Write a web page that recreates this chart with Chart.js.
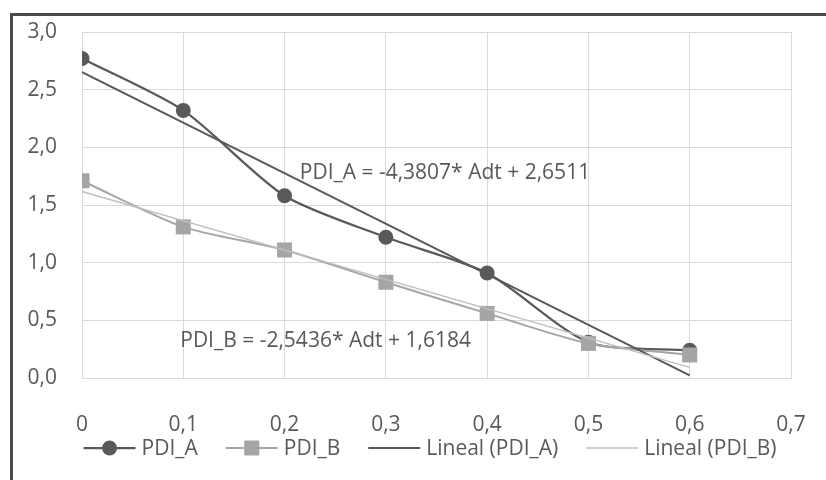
<!DOCTYPE html>
<html>
<head>
<meta charset="utf-8">
<script src="https://cdn.jsdelivr.net/npm/chart.js@4.4.0/dist/chart.umd.min.js"></script>
<style>
  html, body { margin: 0; padding: 0; background: #fff; }
  #wrap { position: relative; width: 826px; height: 480px; overflow: hidden; }
  #frame { position: absolute; left: 10px; top: 13px; width: 900px; height: 600px;
           border-top: 3px solid #4a4a4a; border-left: 3px solid #4a4a4a; }
  canvas { position: absolute; left: 0; top: 0; }
</style>
</head>
<body>
<div id="wrap">
  <div id="frame"></div>
  <canvas id="chart" width="826" height="480"></canvas>
</div>
<script>
// data
const adt = [0, 0.1, 0.2, 0.3, 0.4, 0.5, 0.6];
const pdiA = [2.77, 2.32, 1.58, 1.22, 0.91, 0.31, 0.24];
const pdiB = [1.71, 1.31, 1.11, 0.83, 0.56, 0.30, 0.20];
const trendX = [0, 0.6];
const trendA = [2.651, 0.023];
const trendB = [1.618, 0.092];
const seriesNames = ["PDI_A", "PDI_B", "Lineal (PDI_A)", "Lineal (PDI_B)"];
const equations = ["PDI_A = -4,3807* Adt + 2,6511", "PDI_B = -2,5436* Adt + 1,6184"];

const FONT = "'Open Sans', Lato, sans-serif";
const FSIZE = 21;
const TEXT = "#595959";
const DARK = "#595959";
const LIGHT = "#a5a5a5";
const PALE = "#bfbfbf";

const pts = (xs, ys) => xs.map((x, i) => ({ x: x, y: ys[i] }));
const comma = v => String(v).replace(".", ",");

// keep the plot area where the layout padding puts it
const noScalePad = s => { s.paddingTop = s.paddingBottom = s.paddingLeft = s.paddingRight = 0; };

// equation labels, anchored in data units
const eqPlugin = {
  id: "equations",
  afterDatasetsDraw(chart) {
    const { ctx, scales: { x, y } } = chart;
    const anchors = [[0.215, 1.78], [0.097, 0.32]];
    ctx.save();
    ctx.font = FSIZE + "px " + FONT;
    ctx.fillStyle = TEXT;
    ctx.textBaseline = "middle";
    equations.forEach((t, i) => {
      ctx.fillText(t, x.getPixelForValue(anchors[i][0]), y.getPixelForValue(anchors[i][1]));
    });
    ctx.restore();
  }
};

// excel style legend: line through marker
const legendPlugin = {
  id: "xlLegend",
  afterDraw(chart) {
    const ctx = chart.ctx;
    const styles = [
      { color: DARK, width: 2.25, marker: "circle" },
      { color: LIGHT, width: 2, marker: "rect" },
      { color: DARK, width: 2, marker: null },
      { color: PALE, width: 1.5, marker: null }
    ];
    const lineLen = 52, gapText = 6, gapItem = 28, cy = 448;
    ctx.save();
    ctx.font = FSIZE + "px " + FONT;
    const widths = seriesNames.map(n => ctx.measureText(n).width);
    let total = widths.reduce((a, w) => a + lineLen + gapText + w, 0) + gapItem * (seriesNames.length - 1);
    let x = 430 - total / 2;
    seriesNames.forEach((n, i) => {
      const s = styles[i];
      ctx.strokeStyle = s.color;
      ctx.lineWidth = s.width;
      ctx.beginPath();
      ctx.moveTo(x, cy);
      ctx.lineTo(x + lineLen, cy);
      ctx.stroke();
      ctx.fillStyle = s.color;
      const mx = x + lineLen / 2;
      if (s.marker === "circle") {
        ctx.beginPath();
        ctx.arc(mx, cy, 7.5, 0, Math.PI * 2);
        ctx.fill();
      } else if (s.marker === "rect") {
        ctx.fillRect(mx - 7.5, cy - 7.5, 15, 15);
      }
      ctx.fillStyle = TEXT;
      ctx.textBaseline = "middle";
      ctx.fillText(n, x + lineLen + gapText, cy + 1);
      x += lineLen + gapText + widths[i] + gapItem;
    });
    ctx.restore();
  }
};

new Chart(document.getElementById("chart"), {
  type: "scatter",
  data: {
    datasets: [
      {
        label: seriesNames[0], data: pts(adt, pdiA), showLine: true, tension: 0.25,
        borderColor: DARK, backgroundColor: DARK, borderWidth: 2.25,
        pointStyle: "circle", pointRadius: 7.5, pointBorderWidth: 0, order: 3
      },
      {
        label: seriesNames[1], data: pts(adt, pdiB), showLine: true, tension: 0.25,
        borderColor: LIGHT, backgroundColor: LIGHT, borderWidth: 2,
        pointStyle: "rect", pointRadius: 10.6, pointBorderWidth: 0, order: 2
      },
      {
        label: seriesNames[2], data: pts(trendX, trendA), showLine: true,
        borderColor: DARK, borderWidth: 2, pointRadius: 0, order: 1
      },
      {
        label: seriesNames[3], data: pts(trendX, trendB), showLine: true,
        borderColor: PALE, borderWidth: 1.5, pointRadius: 0, order: 0
      }
    ]
  },
  options: {
    responsive: false,
    animation: false,
    layout: { padding: { top: 32, right: 35, left: 0, bottom: 0 } },
    plugins: { legend: { display: false }, tooltip: { enabled: false } },
    scales: {
      x: {
        type: "linear", min: 0, max: 0.7,
        afterFit: s => { s.height = 102; noScalePad(s); },
        grid: { color: "#d9d9d9", lineWidth: 1, drawTicks: false },
        border: { color: "#d9d9d9" },
        ticks: {
          stepSize: 0.1, padding: 34, color: TEXT, font: { family: FONT, size: FSIZE },
          callback: v => comma(Math.round(v * 10) / 10)
        }
      },
      y: {
        min: 0, max: 3,
        afterFit: s => { s.width = 82; noScalePad(s); },
        grid: { color: "#d9d9d9", lineWidth: 1, drawTicks: false },
        border: { color: "#d9d9d9" },
        ticks: {
          stepSize: 0.5, padding: 25, color: TEXT, font: { family: FONT, size: FSIZE },
          callback: v => v.toFixed(1).replace(".", ",")
        }
      }
    }
  },
  plugins: [eqPlugin, legendPlugin]
});
</script>
</body>
</html>
